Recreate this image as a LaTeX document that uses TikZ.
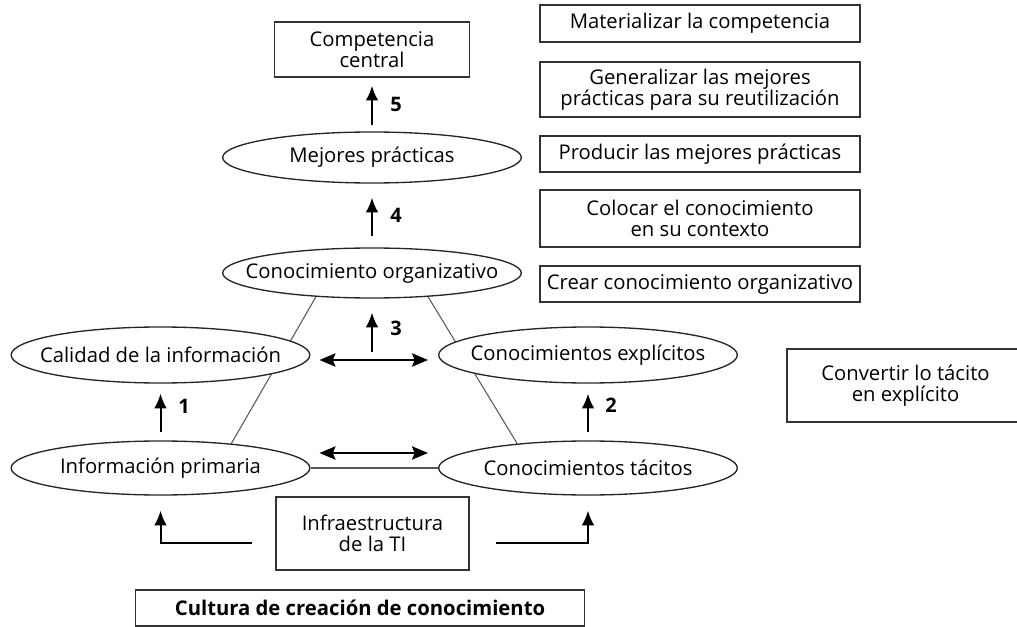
\documentclass[tikz,border=0pt]{standalone}
\usepackage{fontspec}
\setmainfont{Open Sans}
\usetikzlibrary{shapes.geometric,arrows.meta,backgrounds}

\tikzset{
  caja/.style={draw=black!80, line width=1.2pt, align=center, inner sep=0pt},
  oval/.style={ellipse, draw=black!85, line width=1pt, fill=white, inner sep=0pt, minimum width=224pt},
  arr/.style={-{Latex[length=11pt,width=9.5pt]}, line width=1.5pt},
  dblarr/.style={{Stealth[length=12pt,width=10pt,inset=2pt]}-{Stealth[length=12pt,width=10pt,inset=2pt]}, line width=1.3pt},
  lado/.style={draw=black!65, line width=0.8pt},
  num/.style={font=\fontsize{15}{15}\selectfont\bfseries}
}

\begin{document}
\begin{tikzpicture}[x=0.75pt, y=-0.75pt, font=\fontsize{15.2}{15.5}\selectfont]
  \useasboundingbox (0,0) rectangle (1017,627);

  % columna central
  \node[caja, minimum width=146pt, minimum height=41.25pt] (comp) at (372,49.5) {Competencia\\central};
  \node[oval, minimum height=38.25pt, label=center:{Mejores prácticas}] (mej) at (372,157.5) {};
  \node[oval, minimum height=37.5pt, label=center:{Conocimiento organizativo}] (org) at (372,273) {};
  \node[oval, minimum height=42pt, label=center:{Calidad de la información}] (cal) at (160.5,355) {};
  \node[oval, minimum height=42pt, label=center:{Conocimientos explícitos}] (exp) at (588,355) {};
  \node[oval, minimum height=40.5pt, label=center:{Información primaria}] (prim) at (160.5,468) {};
  \node[oval, minimum height=40.5pt, label=center:{Conocimientos tácitos}] (tac) at (588,468) {};
  \node[caja, minimum width=144.75pt, minimum height=54.75pt] (infra) at (372.5,533.5) {Infraestructura\\de la TI};
  \node[caja, minimum width=336.75pt, minimum height=27pt, font=\fontsize{15.2}{15.5}\selectfont\bfseries] (cult) at (360,608) {Cultura de creación de conocimiento};

  % columna derecha
  \node[caja, minimum width=240pt, minimum height=27.75pt] (mat) at (700,23.5) {Materializar la competencia};
  \node[caja, minimum width=240pt, minimum height=41.25pt] (gen) at (700,89.5) {Generalizar las mejores\\prácticas para su reutilización};
  \node[caja, minimum width=240pt, minimum height=27pt] (prod) at (700,154) {Producir las mejores prácticas};
  \node[caja, minimum width=240pt, minimum height=42.75pt] (col) at (700,218.5) {Colocar el conocimiento\\en su contexto};
  \node[caja, minimum width=240pt, minimum height=27pt] (crear) at (700,284) {Crear conocimiento organizativo};
  \node[caja, minimum width=177.75pt, minimum height=54.75pt] (conv) at (905.5,385.5) {Convertir lo tácito\\en explícito};

  % lados del triangulo
  \begin{scope}[on background layer]
    \draw[lado] (org.203) -- (prim.19);
    \draw[lado] (org.-23) -- (tac.161);
  \end{scope}
  \draw[lado] (prim.east) -- (tac.west);

  % flechas numeradas
  \coordinate (c3) at (372,352);
  \draw[arr, shorten <=6pt, shorten >=7.5pt] (prim) -- (cal);
  \draw[arr, shorten <=6pt, shorten >=7.5pt] (tac) -- (exp);
  \draw[arr, shorten >=10.5pt] (c3) -- (org);
  \draw[arr, shorten <=8.25pt, shorten >=10.5pt] (org) -- (mej);
  \draw[arr, shorten <=4.5pt, shorten >=6pt] (mej) -- (comp);
  \node[num] (n1) at (184,406) {1};
  \node[num] (n2) at (611,405) {2};
  \node[num] (n3) at (396,328) {3};
  \node[num] (n4) at (396,215) {4};
  \node[num] (n5) at (396,104) {5};

  \draw[dblarr] ([xshift=6.75pt,yshift=-3.75pt]cal.east) -- ([xshift=-7.5pt,yshift=-3.75pt]exp.west);
  \draw[dblarr] ([xshift=6.75pt,yshift=11.25pt]prim.east) -- ([xshift=-7.5pt,yshift=11.25pt]tac.west);

  % infraestructura
  \draw[arr] ([xshift=-17.25pt,yshift=-7.1pt]infra.west) -| ([yshift=-11.25pt]prim.south);
  \draw[arr] ([xshift=19.5pt,yshift=-7.1pt]infra.east) -| ([yshift=-11.25pt]tac.south);
\end{tikzpicture}
\end{document}
